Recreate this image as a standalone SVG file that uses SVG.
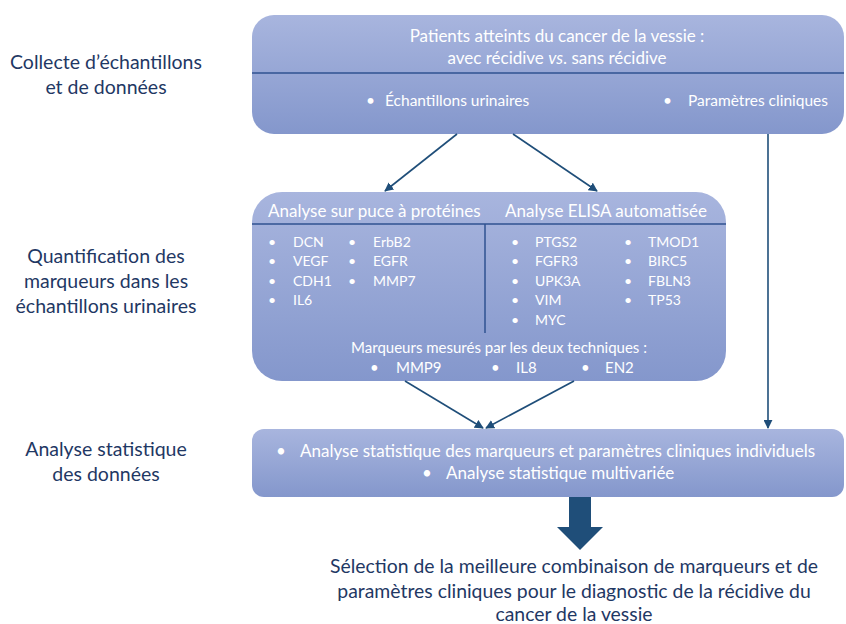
<svg xmlns="http://www.w3.org/2000/svg" width="846" height="624" viewBox="0 0 846 624">
<defs>
<linearGradient id="g" x1="0" y1="0" x2="0" y2="1">
<stop offset="0" stop-color="#a8b5de"/>
<stop offset="1" stop-color="#8497cc"/>
</linearGradient>
<marker id="ah" viewBox="0 0 10 10" refX="9" refY="5" markerWidth="9" markerHeight="9" markerUnits="userSpaceOnUse" orient="auto">
<path d="M0,0 L10,5 L0,10 Z" fill="#1f4e79"/>
</marker>
<clipPath id="c2"><rect x="252" y="192" width="474" height="189" rx="30"/></clipPath>
</defs>
<style>
.lbl{font-family:Lato,"Liberation Sans",sans-serif;font-size:19.5px;fill:#1f3864;text-anchor:middle}
.w{font-family:Lato,"Liberation Sans",sans-serif;fill:#ffffff}
.t1{font-size:17px}
.t1b{font-size:15.5px}
.t2{font-size:17px}
.t3{font-size:14px}
.t4{font-size:15px}
.mid{text-anchor:middle}
.conn{stroke:#1f4e79;stroke-width:1.6;fill:none;marker-end:url(#ah)}
.sep{stroke:#2f5291;stroke-width:1.5}
.res{font-family:Lato,"Liberation Sans",sans-serif;font-size:19.4px;fill:#1f3864;text-anchor:middle}
</style>

<g id="labels">
<text class="lbl" x="106" y="69">Collecte d’échantillons</text>
<text class="lbl" x="106" y="94">et de données</text>
<text class="lbl" x="106" y="263">Quantification des</text>
<text class="lbl" x="106" y="288">marqueurs dans les</text>
<text class="lbl" x="106" y="313">échantillons urinaires</text>
<text class="lbl" x="106" y="456">Analyse statistique</text>
<text class="lbl" x="106" y="481">des données</text>
</g>

<g id="node-collecte">
<rect x="252" y="15" width="592" height="119" rx="22" fill="url(#g)"/>
<line class="sep" x1="252" y1="73" x2="844" y2="73"/>
<text class="w t1 mid" x="557" y="42">Patients atteints du cancer de la vessie :</text>
<text class="w t1 mid" x="557" y="64">avec récidive <tspan font-style="italic">vs</tspan>. sans récidive</text>
<text class="w t1b" x="366" y="106">•</text>
<text class="w t1b" x="385" y="106">Échantillons urinaires</text>
<text class="w t1b" x="663" y="106">•</text>
<text class="w t1b" x="688" y="106">Paramètres cliniques</text>
</g>

<g id="node-quantification">
<rect x="252" y="192" width="474" height="189" rx="30" fill="url(#g)"/>
<g clip-path="url(#c2)">
<line class="sep" x1="252" y1="224" x2="726" y2="224"/>
</g>
<line class="sep" x1="485" y1="224" x2="485" y2="333"/>
<text class="w t2" x="268" y="217">Analyse sur puce à protéines</text>
<text class="w t2" x="505" y="217">Analyse ELISA automatisée</text>
<g class="w t3">
<text x="268" y="247">•</text><text x="293" y="247">DCN</text>
<text x="268" y="266">•</text><text x="293" y="266">VEGF</text>
<text x="268" y="286">•</text><text x="293" y="286">CDH1</text>
<text x="268" y="305">•</text><text x="293" y="305">IL6</text>
<text x="348" y="247">•</text><text x="373" y="247">ErbB2</text>
<text x="348" y="266">•</text><text x="373" y="266">EGFR</text>
<text x="348" y="286">•</text><text x="373" y="286">MMP7</text>
<text x="511" y="247">•</text><text x="535" y="247">PTGS2</text>
<text x="511" y="266">•</text><text x="535" y="266">FGFR3</text>
<text x="511" y="286">•</text><text x="535" y="286">UPK3A</text>
<text x="511" y="305">•</text><text x="535" y="305">VIM</text>
<text x="511" y="325">•</text><text x="535" y="325">MYC</text>
<text x="624" y="247">•</text><text x="648" y="247">TMOD1</text>
<text x="624" y="266">•</text><text x="648" y="266">BIRC5</text>
<text x="624" y="286">•</text><text x="648" y="286">FBLN3</text>
<text x="624" y="305">•</text><text x="648" y="305">TP53</text>
<text class="t4" x="499" y="353" text-anchor="middle">Marqueurs mesurés par les deux techniques :</text>
<text class="t4" x="370" y="373">•</text><text class="t4" x="396" y="373">MMP9</text>
<text class="t4" x="491" y="373">•</text><text class="t4" x="516" y="373">IL8</text>
<text class="t4" x="581" y="373">•</text><text class="t4" x="605" y="373">EN2</text>
</g>
</g>

<g id="node-analyse">
<rect x="252" y="429" width="592" height="68" rx="12" fill="url(#g)"/>
<text class="w t2" x="276" y="457">•</text>
<text class="w t2" x="300" y="457">Analyse statistique des marqueurs et paramètres cliniques individuels</text>
<text class="w t2" x="422" y="479">•</text>
<text class="w t2" x="446" y="479">Analyse statistique multivariée</text>
</g>

<g id="connectors">
<line class="conn" x1="457" y1="134" x2="385" y2="191"/>
<line class="conn" x1="513" y1="134" x2="597" y2="191"/>
<line class="conn" x1="768" y1="134" x2="768" y2="428"/>
<line class="conn" x1="405" y1="381" x2="483" y2="428"/>
<line class="conn" x1="574" y1="381" x2="486" y2="428"/>
<path d="M569,497 L591,497 L591,527 L603,527 L580,550 L557,527 L569,527 Z" fill="#1f4e79"/>
</g>

<g id="node-result">
<text class="res" x="574" y="573">Sélection de la meilleure combinaison de marqueurs et de</text>
<text class="res" x="574" y="598">paramètres cliniques pour le diagnostic de la récidive du</text>
<text class="res" x="574" y="621">cancer de la vessie</text>
</g>
</svg>
